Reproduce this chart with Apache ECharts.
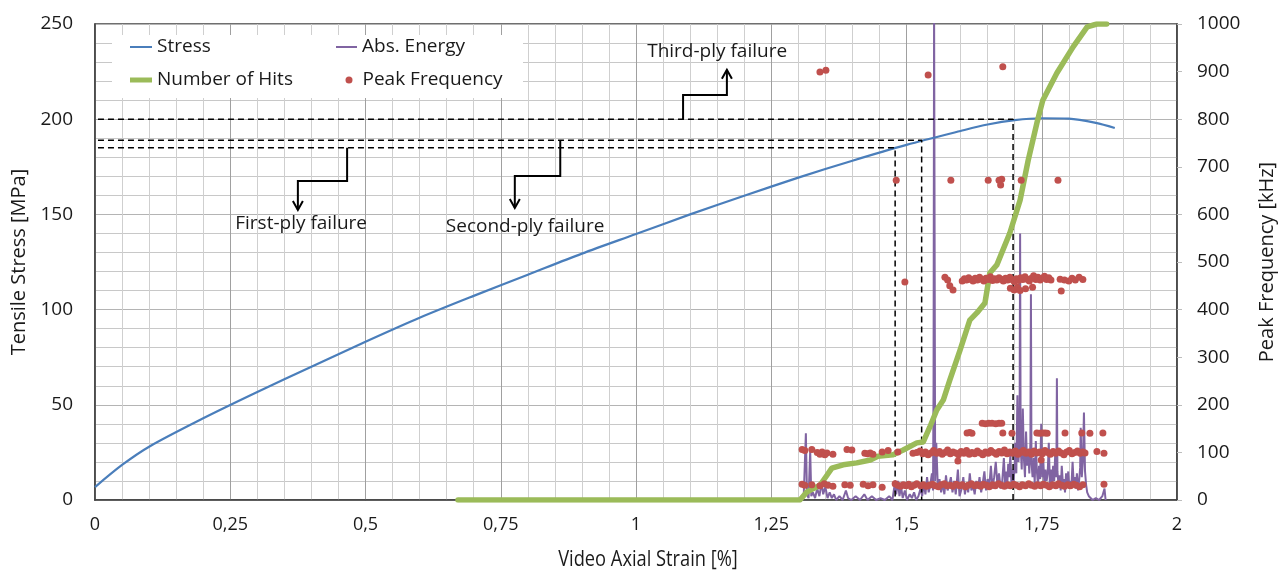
<!DOCTYPE html>
<html>
<head>
<meta charset="utf-8">
<script src="https://cdn.jsdelivr.net/npm/echarts@6/dist/echarts.min.js"></script>
<style>
  html, body { margin: 0; padding: 0; background: #fff; }
  #chart { width: 1288px; height: 574px; }
</style>
</head>
<body>
<div id="chart"></div>
<script>
// strain [%] vs tensile stress [MPa]
const stressX = [0, 0.05, 0.1, 0.2, 0.3, 0.4, 0.5, 0.6, 0.7, 0.8, 0.9, 1.0, 1.1, 1.2, 1.3, 1.4, 1.5, 1.6, 1.65, 1.7, 1.75, 1.8, 1.85, 1.885];
const stressY = [6.8, 18.4, 28.0, 42.9, 56.7, 70.0, 83.1, 95.7, 107.2, 118.3, 129.4, 139.7, 150.0, 159.8, 169.3, 178.2, 186.5, 193.8, 197.2, 199.5, 200.5, 200.3, 198.1, 195.4];

// cumulative number of hits (right axis)
const hitsX = [0.671, 1.303, 1.316, 1.340, 1.353, 1.362, 1.383, 1.408, 1.433, 1.447, 1.475, 1.494, 1.519, 1.531, 1.543, 1.556, 1.568, 1.580, 1.599, 1.617, 1.630, 1.645, 1.654, 1.667, 1.691, 1.710, 1.725, 1.741, 1.752, 1.778, 1.808, 1.834, 1.852, 1.870];
const hitsY = [0, 0, 17, 31, 52, 67, 74, 78, 84, 92, 95, 105, 120, 122, 153, 189, 210, 252, 315, 378, 393, 414, 477, 494, 561, 630, 714, 792, 840, 897, 952, 994, 1000, 1000];

// absolute energy (relative height, drawn on a hidden axis)
const energy = [
  [1.305,0],[1.310,2],[1.314,35],[1.316,3],[1.319,1],[1.322,26],[1.324,2],[1.327,4],[1.331,1],[1.335,6],[1.339,2],[1.343,9],[1.346,3],
  [1.350,7],[1.354,1],[1.358,4],[1.362,1],[1.366,3],[1.370,0],[1.376,2],[1.382,0],[1.388,5],[1.392,1],[1.398,0],[1.406,2],[1.414,0],
  [1.422,3],[1.428,0],[1.436,2],[1.444,0],[1.452,1],[1.460,0],[1.468,2],[1.474,0],[1.478,8],[1.481,3],[1.484,10],[1.487,2],[1.490,7],
  [1.493,1],[1.497,5],[1.501,0],[1.506,3],[1.510,1],[1.514,4],[1.518,0],[1.522,2],[1.526,6],[1.529,2],[1.532,9],[1.535,3],[1.538,12],
  [1.541,4],[1.544,8],[1.547,14],[1.549,5],[1.550,60],[1.551,260],[1.553,10],[1.555,30],[1.558,6],[1.561,11],[1.564,4],[1.567,9],
  [1.570,3],[1.573,13],[1.576,5],[1.579,8],[1.582,12],[1.585,4],[1.588,10],[1.591,3],[1.595,16],[1.598,2],[1.602,6],[1.605,12],
  [1.608,3],[1.611,9],[1.614,4],[1.617,14],[1.620,5],[1.623,8],[1.626,3],[1.629,10],[1.632,6],[1.635,12],[1.638,4],[1.641,9],
  [1.644,15],[1.647,5],[1.650,11],[1.653,7],[1.656,18],[1.659,6],[1.662,12],[1.665,20],[1.668,8],[1.671,14],[1.674,6],[1.677,10],
  [1.680,22],[1.682,9],[1.684,15],[1.686,6],[1.688,19],[1.690,12],[1.692,24],[1.694,8],[1.696,16],[1.698,10],[1.700,18],
  [1.701,30],[1.703,14],[1.705,55],[1.707,20],[1.709,34],[1.710,140],[1.711,28],[1.713,16],[1.715,48],[1.717,22],[1.719,12],
  [1.721,36],[1.723,18],[1.725,26],[1.727,14],[1.729,30],[1.730,108],[1.731,20],[1.733,12],[1.735,22],[1.737,9],[1.739,31],
  [1.741,15],[1.743,8],[1.745,18],[1.747,11],[1.749,40],[1.751,12],[1.753,20],[1.755,7],[1.757,16],[1.759,10],[1.761,14],
  [1.763,30],[1.765,9],[1.767,16],[1.769,6],[1.771,18],[1.773,10],[1.775,25],[1.777,12],[1.778,64],[1.779,15],[1.781,8],
  [1.783,13],[1.785,5],[1.787,18],[1.789,9],[1.791,11],[1.793,4],[1.795,14],[1.797,7],[1.799,15],[1.801,6],[1.803,10],
  [1.805,8],[1.807,20],[1.809,9],[1.811,12],[1.813,6],[1.815,14],[1.817,5],[1.819,10],[1.821,17],[1.822,38],[1.824,12],
  [1.826,20],[1.828,46],[1.830,15],[1.832,8],[1.834,4],[1.837,2],[1.840,3],[1.844,0],[1.850,1],[1.856,0],[1.862,2],[1.866,6],[1.868,0]
];

// peak frequency [kHz], one array per band
const pf900 = [[1.340,899],[1.351,903],[1.540,893],[1.678,910]];
const pf670 = [[1.481,672],[1.582,672],[1.651,672],[1.671,672],[1.676,674],[1.674,662],[1.712,672],[1.780,672]];
const pf460 = [
  [1.497,458],[1.571,468],[1.576,462],[1.580,450],[1.586,441],[1.603,460],[1.607,465],[1.611,462],[1.615,467],[1.619,463],
  [1.623,460],[1.627,466],[1.631,462],[1.635,468],[1.639,464],[1.643,460],[1.647,466],[1.651,463],[1.655,469],[1.659,461],
  [1.663,465],[1.667,462],[1.671,467],[1.675,464],[1.679,460],[1.683,466],[1.687,462],[1.691,468],[1.695,463],[1.699,459],
  [1.703,465],[1.707,461],[1.711,467],[1.715,463],[1.719,469],[1.723,464],[1.727,460],[1.731,466],[1.735,471],[1.739,463],
  [1.743,468],[1.747,462],[1.751,466],[1.755,470],[1.759,463],[1.763,467],[1.767,462],[1.692,445],[1.699,441],[1.705,447],
  [1.710,440],[1.720,444],[1.733,447],[1.786,439],[1.784,464],[1.792,462],[1.800,460],[1.806,466],[1.812,462],[1.819,468],[1.826,463]
];
const pf150 = [
  [1.612,141],[1.617,142],[1.621,140],[1.640,161],[1.646,160],[1.652,161],[1.658,161],[1.665,160],[1.671,161],[1.676,161],
  [1.678,141],[1.695,140],[1.741,141],[1.746,140],[1.751,141],[1.756,141],[1.760,140],[1.793,141],[1.824,141],[1.839,140],[1.863,141]
];
const pf100 = [
  [1.307,106],[1.312,104],[1.325,106],[1.335,100],[1.340,96],[1.344,101],[1.349,95],[1.353,99],[1.364,96],[1.390,106],[1.399,105],
  [1.423,98],[1.428,97],[1.433,99],[1.438,96],[1.455,101],[1.466,104],[1.484,101],[1.512,98],[1.519,100],[1.595,82],[1.749,84],
  [1.525,103],[1.530,97],[1.535,101],[1.540,95],[1.545,99],[1.550,104],[1.556,98],[1.561,102],[1.566,96],[1.571,100],
  [1.576,105],[1.581,97],[1.586,101],[1.591,99],[1.596,95],[1.601,102],[1.606,98],[1.611,104],[1.616,96],[1.621,100],
  [1.626,97],[1.631,103],[1.636,99],[1.641,95],[1.646,101],[1.651,98],[1.656,104],[1.661,100],[1.666,96],[1.671,102],
  [1.676,99],[1.681,105],[1.686,97],[1.691,101],[1.696,98],[1.701,103],[1.706,96],[1.711,100],[1.716,104],[1.721,98],
  [1.726,101],[1.731,96],[1.736,103],[1.741,99],[1.746,101],[1.751,97],[1.756,104],[1.761,100],[1.766,96],[1.771,102],
  [1.776,98],[1.781,103],[1.786,99],[1.791,95],[1.796,101],[1.801,104],[1.806,97],[1.811,100],[1.816,103],[1.821,98],
  [1.826,101],[1.830,99],[1.852,102],[1.865,98]
];
const pf30 = [
  [1.307,33],[1.312,31],[1.325,32],[1.340,30],[1.348,34],[1.355,31],[1.364,29],[1.386,32],[1.396,31],[1.420,33],[1.429,30],
  [1.438,32],[1.455,27],[1.479,34],[1.484,31],[1.489,29],[1.494,32],[1.499,30],[1.504,33],[1.509,28],[1.514,31],[1.519,34],
  [1.526,30],[1.531,32],[1.537,29],[1.542,31],[1.548,33],[1.553,30],[1.559,28],[1.564,32],[1.570,34],[1.575,30],[1.581,31],
  [1.586,29],[1.592,33],[1.598,30],[1.603,32],[1.609,28],[1.614,31],[1.620,34],[1.626,30],[1.631,32],[1.637,29],[1.642,33],
  [1.648,31],[1.653,28],[1.659,32],[1.664,30],[1.670,34],[1.676,31],[1.681,29],[1.687,32],[1.692,30],[1.698,33],[1.703,31],
  [1.709,28],[1.714,32],[1.720,30],[1.726,34],[1.731,31],[1.737,29],[1.742,32],[1.748,30],[1.753,33],[1.759,31],[1.764,28],
  [1.770,32],[1.776,30],[1.781,34],[1.787,31],[1.792,29],[1.798,32],[1.803,30],[1.809,33],[1.814,31],[1.820,28],[1.826,32],[1.865,33]
];

// failure markers: stress level and strain where it meets the curve
const plyStrain = [1.479, 1.528, 1.697];
const plyStress = [185, 189, 200];

const FONT = "'Open Sans', 'Noto Sans', sans-serif";
const TXT = '#1a1a1a';

const chart = echarts.init(document.getElementById('chart'));

function zip(xs, ys) {
  return xs.map((x, i) => [x, ys[i]]);
}

const dashSeries = plyStrain.map((s, i) => ({
  type: 'line',
  data: [[-0.013, plyStress[i]], [s, plyStress[i]], [s, 0]],
  symbol: 'none',
  clip: false,
  silent: true,
  z: 3,
  lineStyle: { color: '#000', width: 1.5, type: [6, 4] }
}));

function legendOf(name, left, top, w, h, icon) {
  return {
    data: [{ name: name, icon: icon }],
    left: left, top: top, padding: 0,
    itemWidth: w, itemHeight: h,
    selectedMode: false,
    textStyle: { fontFamily: FONT, fontSize: 19, color: TXT, lineHeight: 22 }
  };
}

chart.setOption({
  animation: false,
  backgroundColor: '#fff',
  grid: {
    left: 95, right: 111, top: 24, bottom: 74,
    show: true, borderColor: '#404040', borderWidth: 1.5, backgroundColor: 'transparent'
  },
  legend: [
    legendOf('Stress', 130, 36, 22, 2, 'rect'),
    legendOf('Number of Hits', 130, 69, 22, 5, 'rect'),
    legendOf('Abs. Energy', 336, 36, 21, 2, 'rect'),
    Object.assign(legendOf('Peak Frequency', 345.5, 69, 7, 7, 'circle'), {
      textStyle: { fontFamily: FONT, fontSize: 19, color: TXT, lineHeight: 22, padding: [0, 0, 0, 5] }
    })
  ],
  xAxis: {
    type: 'value', min: 0, max: 2, interval: 0.25,
    axisLine: { show: true, lineStyle: { color: '#404040', width: 1.5 } },
    axisTick: { show: false },
    axisLabel: {
      fontFamily: FONT, fontSize: 18, color: TXT, margin: 16,
      formatter: v => String(v).replace('.', ',')
    },
    splitLine: { show: true, lineStyle: { color: '#a0a0a0', width: 1 } },
    minorTick: { show: false, splitNumber: 5 },
    minorSplitLine: { show: true, lineStyle: { color: '#cfcfcf', width: 1 } }
  },
  yAxis: [
    {
      type: 'value', min: 0, max: 250, interval: 50,
      name: 'Tensile Stress [MPa]', nameLocation: 'middle', nameGap: 66, nameRotate: 90,
      nameTextStyle: { fontFamily: FONT, fontSize: 20, color: TXT },
      axisLine: { show: true, lineStyle: { color: '#404040', width: 1.5 } },
      axisTick: { show: false },
      axisLabel: { fontFamily: FONT, fontSize: 19, color: TXT, margin: 22 },
      splitLine: { show: true, lineStyle: { color: '#b4b4b4', width: 1 } },
      minorTick: { show: false, splitNumber: 5 },
      minorSplitLine: { show: true, lineStyle: { color: '#c8c8c8', width: 1 } }
    },
    {
      type: 'value', min: 0, max: 1000, interval: 100, position: 'right',
      name: 'Peak Frequency [kHz]', nameLocation: 'middle', nameGap: 80, nameRotate: 90,
      nameTextStyle: { fontFamily: FONT, fontSize: 20, color: TXT },
      axisLine: { show: true, lineStyle: { color: '#404040', width: 1.5 } },
      axisTick: { show: true, length: 5, lineStyle: { color: '#bdbdbd' } },
      axisLabel: { fontFamily: FONT, fontSize: 19, color: TXT, margin: 20, formatter: v => String(v) },
      splitLine: { show: false }
    },
    { type: 'value', min: 0, max: 250, show: false }
  ],
  series: [
    {
      name: 'Abs. Energy', type: 'line', yAxisIndex: 2, data: energy,
      symbol: 'none', z: 2,
      color: '#8064a2', lineStyle: { color: '#8064a2', width: 2 }
    },
    {
      name: 'Stress', type: 'line', yAxisIndex: 0, data: zip(stressX, stressY),
      symbol: 'none', smooth: 0.3, z: 3,
      color: '#4a7ebb', lineStyle: { color: '#4a7ebb', width: 2.2 }
    },
    ...dashSeries,
    {
      name: 'Number of Hits', type: 'line', yAxisIndex: 1, data: zip(hitsX, hitsY),
      symbol: 'none', z: 4,
      color: '#9bbb59', lineStyle: { color: '#9bbb59', width: 5.5, join: 'round', cap: 'round' }
    },
    {
      name: 'Peak Frequency', type: 'scatter', yAxisIndex: 1,
      data: [].concat(pf30, pf100, pf150, pf460, pf670, pf900),
      symbolSize: 7, z: 5,
      color: '#c0504d', itemStyle: { color: '#c0504d', opacity: 1 }
    }
  ]
});

// legend backdrop, x-axis title and ply-failure call-outs, placed from data coordinates
function px(x, y) {
  return chart.convertToPixel({ xAxisIndex: 0, yAxisIndex: 0 }, [x, y]);
}

function callout(pts, up) {
  const p = pts.map(q => px(q[0], q[1]));
  const tip = p[p.length - 1];
  const d = up ? 9 : -9;
  return [
    { type: 'polyline', z: 100, shape: { points: p }, style: { stroke: '#000', lineWidth: 2, fill: null } },
    {
      type: 'polyline', z: 100,
      shape: { points: [[tip[0] - 5, tip[1] + d], tip, [tip[0] + 5, tip[1] + d]] },
      style: { stroke: '#000', lineWidth: 2, fill: null }
    }
  ];
}

function label(text, x, y) {
  const p = px(x, y);
  return {
    type: 'text', z: 100, x: p[0], y: p[1],
    style: { text: text, fontFamily: FONT, fontSize: 19, fill: TXT, align: 'center', verticalAlign: 'middle' }
  };
}

chart.setOption({
  graphic: [
    { type: 'rect', z: 3, shape: { x: 112, y: 35, width: 411, height: 63 }, style: { fill: '#fff' } },
    {
      type: 'text', x: 648, y: 560, scaleX: 0.87,
      style: { text: 'Video Axial Strain [%]', fontFamily: FONT, fontSize: 21, fill: TXT, align: 'center', verticalAlign: 'middle' }
    },
    ...callout([[0.466, 185], [0.466, 167.5], [0.375, 167.5], [0.375, 152.3]], false),
    ...callout([[0.860, 189], [0.860, 170.2], [0.776, 170.2], [0.776, 153.4]], false),
    ...callout([[1.087, 200], [1.087, 212.7], [1.168, 212.7], [1.168, 226]], true),
    label('First-ply failure', 0.381, 145),
    label('Second-ply failure', 0.795, 143.4),
    label('Third-ply failure', 1.150, 235.3)
  ]
});
</script>
</body>
</html>
